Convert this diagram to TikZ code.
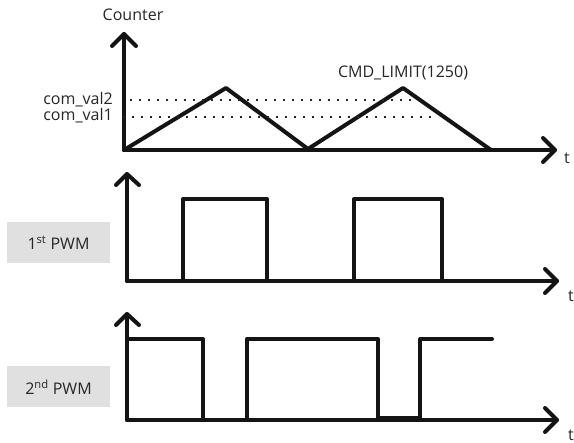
\documentclass[tikz,border=0pt]{standalone}
\usepackage{fontspec}
\setmainfont{Open Sans}
\begin{document}
\begin{tikzpicture}[x=1pt,y=-1pt,
  sig/.style={line width=4pt, line cap=round, line join=round, draw=black!92},
  axis/.style={line width=4pt, line cap=round, line join=round, draw=black!92},
  chev/.style={line width=4pt, line cap=round, line join=round, draw=black!92},
  dots/.style={line width=1.5pt, draw=black!85, dash pattern=on 1.5pt off 7.5pt},
  lbl/.style={font=\fontsize{16}{18}\selectfont, text=black!85, inner sep=0pt},
  tlbl/.style={font=\fontsize{16}{18}\selectfont, text=black!85, inner sep=0pt},
  pwmbox/.style={fill=black!12, minimum width=103pt, minimum height=41pt, inner sep=0pt,
    font=\fontsize{16}{18}\selectfont, text=black!85}
]
\useasboundingbox (0,0) rectangle (574,443);

% ---------- Panel 1: counter ----------
\coordinate (o1) at (124,150);
\coordinate (y1) at (124,34);
\coordinate (x1) at (555,150);
\draw[axis] (o1) -- (y1);
\draw[axis] (o1) -- (x1);
\draw[chev] (112,46) -- (y1) -- (136,46);
\draw[chev] (543,138) -- (x1) -- (543,162);
\node[lbl] (cnt) at (133,15) {Counter};
\node[tlbl] (t1) at (567,158) {t};

\coordinate (p1) at (226,88);
\coordinate (v1) at (308,149);
\coordinate (p2) at (403,88);
\coordinate (e1) at (491,150);
\draw[sig] (o1) -- (p1) -- (v1) -- (p2) -- (e1);

\coordinate (d2a) at (130,100);
\coordinate (d2b) at (414,100);
\coordinate (d1a) at (123,117);
\coordinate (d1b) at (438,117);
\draw[dots] (d2a) -- (d2b);
\draw[dots] (d1a) -- (d1b);
\node[lbl, anchor=east] (cv2) at (113,100) {com\_val2};
\node[lbl, anchor=east] (cv1) at (113,116) {com\_val1};
\node[lbl] (lim) at (403,73) {CMD\_LIMIT(1250)};

% ---------- Panel 2: 1st PWM ----------
\coordinate (o2) at (127,281);
\coordinate (y2) at (127,174);
\coordinate (x2) at (557,281);
\draw[axis] (o2) -- (y2);
\draw[axis] (o2) -- (x2);
\draw[chev] (116,185) -- (y2) -- (139,185);
\draw[chev] (545,269) -- (x2) -- (545,293);
\node[tlbl] (t2) at (571,296) {t};
\draw[sig] (183,281) -- (183,199) -- (267,199) -- (267,281);
\draw[sig] (354,281) -- (354,199) -- (442,199) -- (442,281);
\node[pwmbox] (b1) at (58.5,243) {1\textsuperscript{st} PWM};

% ---------- Panel 3: 2nd PWM ----------
\coordinate (o3) at (127,420);
\coordinate (y3) at (127,314);
\coordinate (x3) at (557,420);
\draw[axis] (o3) -- (y3);
\draw[axis] (o3) -- (x3);
\draw[chev] (116,325) -- (y3) -- (139,325);
\draw[chev] (545,408) -- (x3) -- (545,432);
\node[tlbl] (t3) at (571,435) {t};
\draw[sig] (127,339) -- (203,339) -- (203,420) -- (247,420) -- (247,339)
  -- (378,339) -- (378,420) -- (420,420) -- (420,339) -- (492,339);
\draw[line width=5.5pt, draw=black!92] (378,419) -- (420,419);
\node[pwmbox] (b2) at (58.5,387) {2\textsuperscript{nd} PWM};
\end{tikzpicture}
\end{document}
